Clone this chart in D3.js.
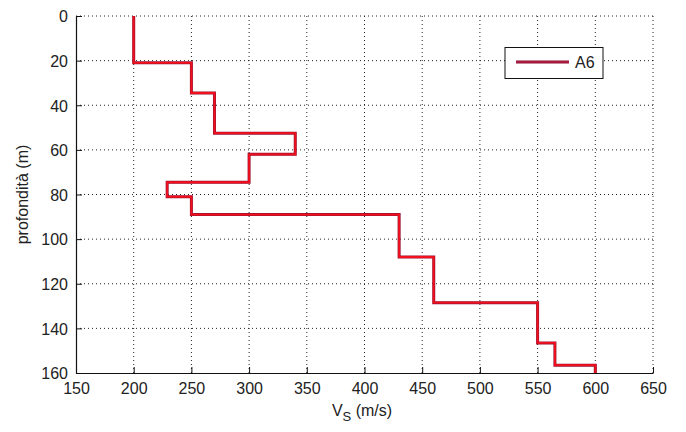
<!DOCTYPE html>
<html><head><meta charset="utf-8">
<script src="https://cdn.jsdelivr.net/npm/d3@7"></script>
<style>body{margin:0;background:#fff}svg{display:block}text{font-family:"Liberation Sans",Arial,sans-serif}</style>
</head><body>
<svg id="c" width="686" height="432"></svg>
<script>
const vsValues = [200, 250, 270, 340, 300, 229, 250, 430, 460, 550, 565, 600];
const layerBounds = [0, 21, 34.5, 52.5, 62, 74.5, 81, 89, 108, 128.5, 146.5, 156.5, 160];
const xTicks = [150, 200, 250, 300, 350, 400, 450, 500, 550, 600, 650];
const yTicks = [0, 20, 40, 60, 80, 100, 120, 140, 160];
const seriesName = "A6";

const svg = d3.select("#c");
const L = 76, R = 653, T = 16, B = 373;
const x = d3.scaleLinear().domain([150, 650]).range([L, R]);
const y = d3.scaleLinear().domain([0, 160]).range([T, B]);

// grid
const g = svg.append("g");
g.selectAll(".gx").data(xTicks.slice(1)).enter().append("line")
  .attr("x1", d => x(d)).attr("x2", d => x(d)).attr("y1", T).attr("y2", B)
  .attr("stroke", "#222").attr("stroke-width", 1).attr("stroke-dasharray", "1,3");
g.selectAll(".gy").data(yTicks.slice(0, -1)).enter().append("line")
  .attr("y1", d => y(d)).attr("y2", d => y(d)).attr("x1", L).attr("x2", R)
  .attr("stroke", "#222").attr("stroke-width", 1).attr("stroke-dasharray", "1,3");

// axes
const xAxis = d3.axisBottom(x).tickValues(xTicks).tickSizeInner(-6).tickSizeOuter(0).tickPadding(10);
const yAxis = d3.axisLeft(y).tickValues(yTicks).tickSizeInner(-6).tickSizeOuter(0).tickPadding(8);
const gx = svg.append("g").attr("transform", `translate(0,${B})`).call(xAxis);
const gy = svg.append("g").attr("transform", `translate(${L},0)`).call(yAxis);
[gx, gy].forEach(a => {
  a.select(".domain").attr("stroke", "#111").attr("stroke-width", 1.2);
  a.selectAll(".tick line").attr("stroke", "#111");
  a.selectAll(".tick text").attr("font-size", 16).attr("fill", "#222")
   .attr("font-family", "'Liberation Sans', Arial, sans-serif");
});
gy.selectAll(".tick text").attr("dy", "0.36em");

// profile
const pts = [];
vsValues.forEach((v, i) => { pts.push([v, layerBounds[i]]); pts.push([v, layerBounds[i + 1]]); });
const line = d3.line().x(d => x(d[0])).y(d => y(d[1]));
svg.append("path").attr("d", line(pts)).attr("fill", "none")
  .attr("stroke", "#9a1030").attr("stroke-width", 3);
svg.append("path").attr("d", line(pts)).attr("fill", "none")
  .attr("stroke", "#f0101e").attr("stroke-width", 1.8);

// legend
const lg = svg.append("g");
lg.append("rect").attr("x", 505).attr("y", 47.5).attr("width", 98).attr("height", 31)
  .attr("fill", "#fff").attr("stroke", "#111").attr("stroke-width", 1);
lg.append("line").attr("x1", 516).attr("x2", 569).attr("y1", 62).attr("y2", 62)
  .attr("stroke", "#8a1030").attr("stroke-width", 3);
lg.append("line").attr("x1", 516).attr("x2", 569).attr("y1", 62).attr("y2", 62)
  .attr("stroke", "#c8204a").attr("stroke-width", 1.2);
lg.append("text").attr("x", 575).attr("y", 68).attr("font-size", 16).attr("fill", "#222").text(seriesName);

// labels
const xl = svg.append("text").attr("x", 362).attr("y", 416).attr("text-anchor", "middle")
  .attr("font-size", 16).attr("fill", "#222");
xl.append("tspan").text("V");
xl.append("tspan").attr("font-size", 13).attr("dy", 5).text("S");
xl.append("tspan").attr("dy", -5).text(" (m/s)");
svg.append("text").attr("transform", `translate(28,${(T + B) / 2}) rotate(-90)`)
  .attr("text-anchor", "middle").attr("font-size", 16).attr("fill", "#222").text("profondità (m)");
</script>
</body></html>
